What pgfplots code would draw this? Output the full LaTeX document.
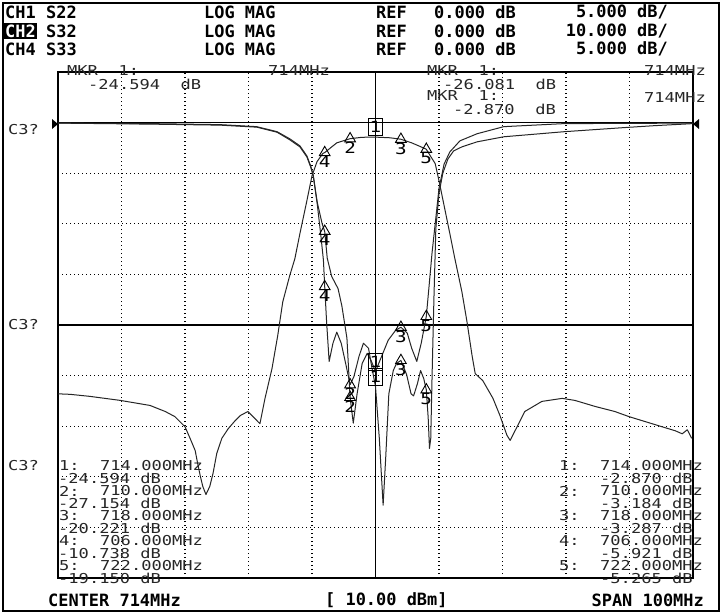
\documentclass[border=0pt]{standalone}
\usepackage{pgfplots}
\pgfplotsset{compat=1.18}
\usepackage{fontspec}
\newfontfamily\hdrfont{DejaVu Sans Mono}
\newfontfamily\thinfont{DejaVu Sans Mono}[FakeStretch=1.25]
\newcommand\hfont{\hdrfont\bfseries\fontsize{17}{17}\selectfont}
\newcommand\tfont{\thinfont\fontsize{13.7}{13.7}\selectfont}
\newcommand\mfont{\thinfont\fontsize{15.5}{15.5}\selectfont}

\begin{document}
\begin{tikzpicture}
\useasboundingbox (0,0) rectangle (724bp,-615bp);
\fill[white] (0,0) rectangle (724bp,-615bp);

\begin{axis}[
    at={(58bp,-578bp)}, anchor=south west,
    scale only axis, width=635bp, height=506bp,
    xmin=664, xmax=764, ymin=-45, ymax=5,
    xtick={674,684,694,704,724,734,744,754},
    ytick={-40,-35,-30,-25,-15,-10,-5},
    extra x ticks={714}, extra y ticks={0,-20},
    extra x tick labels={}, extra y tick labels={},
    extra tick style={major grid style={solid, black, line width=1.1bp}},
    xticklabels={}, yticklabels={},
    major tick length=0pt,
    grid=major,
    major grid style={black, line width=1.3bp, dash pattern=on 1.4bp off 2.6bp},
    axis line style={line width=1.2bp},
    clip=true,
]

%% CH1 S22, 5 dB/div
\addplot[black!85, line width=1bp, line join=round] coordinates {
 (664,-0.05) (678.5,-0.1) (689.5,-0.2) (695.3,-0.4) (698.5,-0.9) (700.5,-1.6)
 (702.1,-2.3) (703.2,-3.3) (703.8,-4.3) (704.2,-5.2) (704.8,-7.8) (705.6,-10.0)
 (706,-10.74) (706.4,-13.4) (707.1,-15.2) (708.1,-16.4) (708.7,-18.1) (709.5,-21.3)
 (710,-27.15) (710.5,-29.7) (711.1,-26.8) (711.9,-23.8) (712.7,-22.8) (713.3,-23.5)
 (714,-24.59) (714.7,-23.5) (716.0,-21.5) (717.2,-20.5) (718,-20.22) (719,-20.8)
 (719.7,-22.3) (720.5,-23.6) (721.2,-21.8) (722,-19.15) (722.4,-16.4) (722.9,-12.9)
 (723.4,-10.0) (724.0,-6.5) (724.8,-4.1) (725.7,-2.9) (727.3,-1.8) (730.0,-1.1)
 (734.2,-0.4) (743.7,-0.1) (764,-0.05)
};

%% CH4 S33, 5 dB/div
\addplot[black!85, line width=1bp, line join=round] coordinates {
 (664,-0.05) (678.5,-0.15) (689.5,-0.25) (695.3,-0.45) (698.5,-0.95) (700.5,-1.7)
 (702.1,-2.4) (703.2,-3.4) (703.8,-4.4) (704.2,-5.3) (704.8,-7.9) (705.4,-11.2)
 (705.8,-13.6) (706.0,-16.2) (706.3,-19.7) (706.7,-23.6) (707.3,-21.8) (707.9,-20.7)
 (708.6,-21.8) (709.3,-23.8) (710,-25.9) (710.6,-25.1) (711.4,-23.1) (712.1,-21.8)
 (712.9,-22.3) (713.4,-24.1) (714,-26.08) (714.6,-31.2) (715.2,-37.8) (715.6,-33.2)
 (716.1,-26.8) (716.8,-24.5) (717.3,-23.8) (718,-23.5) (718.9,-24.9) (719.6,-26.8)
 (720.0,-27.0) (720.6,-25.8) (721.1,-24.5) (721.6,-25.3) (722,-26.4) (722.3,-29.2)
 (722.5,-32.2) (722.7,-31.2) (722.9,-25.3) (723.2,-17.4) (723.5,-10.5) (724.0,-7.0)
 (724.6,-5.0) (725.4,-3.6) (726.3,-2.8) (727.6,-2.4) (730.0,-1.9) (734.2,-1.4)
 (743.7,-0.9) (753,-0.5) (758,-0.3) (764,-0.1)
};

%% CH2 S32, 10 dB/div (drawn on the 5 dB/div grid)
\addplot[black!85, line width=1bp, line join=round, y filter/.expression={y/2}] coordinates {
 (664,-53.6) (665.9,-53.7) (669.0,-54.1) (673.8,-54.9) (678.5,-55.9) (680.9,-57.1)
 (682.4,-58.1) (683.2,-59.1) (684.0,-60.1) (684.8,-62.4) (685.6,-64.8) (686.0,-67.4)
 (686.4,-69.8) (686.8,-71.9) (687.3,-73.5) (687.9,-71.9) (688.4,-69.4) (689.0,-65.4)
 (689.8,-62.4) (690.8,-60.5) (691.9,-58.9) (692.7,-57.9) (693.9,-57.1) (694.7,-58.1)
 (695.8,-59.5) (696.6,-54.5) (697.7,-48.6) (698.6,-42.1) (699.4,-35.4) (700.5,-30.2)
 (701.3,-26.9) (702.1,-21.9) (703.1,-16.0) (704.0,-10.5) (704.8,-7.7) (705.7,-6.1)
 (706,-5.92) (707.9,-4.0) (710,-3.18) (711.9,-2.9) (714,-2.87) (716.3,-3.0)
 (718,-3.29) (719.7,-4.0) (721.0,-4.7) (722,-5.27) (722.7,-6.7) (723.4,-8.1)
 (724.0,-11.5) (724.9,-17.0) (725.7,-21.9) (726.5,-26.9) (727.6,-33.4) (728.4,-39.3)
 (729.2,-46.0) (729.7,-49.6) (730.9,-51.0) (732.5,-54.5) (733.6,-57.9) (734.7,-61.8)
 (735.2,-62.8) (736.3,-60.1) (737.5,-57.1) (740.2,-55.1) (743.4,-54.5) (745.4,-54.9)
 (748.6,-56.1) (751.7,-57.1) (753.9,-58.1) (756.5,-59.1) (759.1,-60.1) (761.2,-60.9)
 (762.3,-61.5) (763.1,-60.7) (763.8,-62.4)
};

%% markers: triangles with numbers, boxes for the active marker
\pgfplotsset{
  tri/.style={only marks, mark=triangle, mark size=6.2bp,
    mark options={solid, fill=white, draw=black, line width=0.9bp},
    point meta=explicit symbolic, nodes near coords,
    nodes near coords align={below},
    every node near coord/.append style={font=\mfont, inner sep=0pt, yshift=-3bp}},
  box/.style={only marks, mark=none,
    point meta=explicit symbolic, nodes near coords,
    nodes near coords align={above},
    every node near coord/.append style={font=\mfont, draw=black, line width=0.9bp,
      inner sep=1.5bp, minimum width=12bp, minimum height=17bp, yshift=1bp}},
}
\addplot[tri] coordinates {(710,-27.154) [2] (718,-20.221) [3] (706,-10.738) [4] (722,-19.150) [5]};
\addplot[tri] coordinates {(710,-25.9) [2] (718,-23.5) [3] (706,-16.2) [4] (722,-26.4) [5]};
\addplot[tri, y filter/.expression={y/2}] coordinates {(710,-3.184) [2] (718,-3.287) [3] (706,-5.921) [4] (722,-5.265) [5]};
\addplot[box] coordinates {(714,-24.594) [1]};
\addplot[box] coordinates {(714,-26.081) [1]};
\addplot[box, y filter/.expression={y/2}] coordinates {(714,-2.870) [1]};
\end{axis}

%% outer frame and reference pointers
\draw[line width=1.2bp] (3bp,-3bp) rectangle (719bp,-611bp);
\fill (52bp,-119bp) -- (58bp,-124bp) -- (52bp,-129bp) -- cycle;
\fill (699bp,-119bp) -- (693bp,-124bp) -- (699bp,-129bp) -- cycle;

%% header
\begin{scope}[every node/.style={inner sep=0pt, anchor=west, font=\hfont}]
\node at (5bp,-12bp) {CH1};   \node at (46bp,-12bp) {S22};
\node[fill=black, text=white, inner xsep=1bp, inner ysep=2bp] at (4bp,-31bp) {CH2};
\node at (46bp,-31bp) {S32};
\node at (5bp,-49bp) {CH4};   \node at (46bp,-49bp) {S33};
\foreach \yy in {12,31,49} {
  \node at (204bp,-\yy bp) {LOG MAG};
  \node at (376bp,-\yy bp) {REF};
  \node at (434bp,-\yy bp) {0.000 dB};
}
\node[anchor=east] at (668bp,-12bp) {5.000 dB/};
\node[anchor=east] at (668bp,-31bp) {10.000 dB/};
\node[anchor=east] at (668bp,-49bp) {5.000 dB/};
\node at (48bp,-600bp) {CENTER 714MHz};
\node at (325bp,-600bp) {[ 10.00 dBm]};
\node[anchor=east] at (704bp,-600bp) {SPAN 100MHz};
\end{scope}

%% marker readouts
\begin{scope}[every node/.style={inner sep=0pt, anchor=west, font=\tfont, text=black!85}]
\node at (67bp,-71bp) {MKR\ \ 1:};
\node at (268bp,-71bp) {714MHz};
\node at (88bp,-84bp) {-24.594\ \ dB};
\node at (427bp,-71bp) {MKR\ \ 1:};
\node[anchor=east] at (706bp,-71bp) {714MHz};
\node at (443bp,-84bp) {-26.081\ \ dB};
\node at (427bp,-96bp) {MKR\ \ 1:};
\node[anchor=east] at (706bp,-98bp) {714MHz};
\node[anchor=east] at (556bp,-109bp) {-2.870\ \ dB};
\node at (8bp,-130bp) {C3?};
\node at (8bp,-325bp) {C3?};
\node at (8bp,-466bp) {C3?};
%% left list (CH1)
\node at (59bp,-466bp) {1:}; \node at (100bp,-466bp) {714.000MHz};
\node at (58bp,-478.5bp) {-24.594 dB};
\node at (59bp,-491bp) {2:}; \node at (100bp,-491bp) {710.000MHz};
\node at (58bp,-503.5bp) {-27.154 dB};
\node at (59bp,-516bp) {3:}; \node at (100bp,-516bp) {718.000MHz};
\node at (58bp,-528.5bp) {-20.221 dB};
\node at (59bp,-541bp) {4:}; \node at (100bp,-541bp) {706.000MHz};
\node at (58bp,-553.5bp) {-10.738 dB};
\node at (59bp,-566bp) {5:}; \node at (100bp,-566bp) {722.000MHz};
\node at (58bp,-578.5bp) {-19.150 dB};
%% right list (CH2)
\node at (559bp,-466bp) {1:}; \node at (600bp,-466bp) {714.000MHz};
\node at (600bp,-478.5bp) {-2.870 dB};
\node at (559bp,-491bp) {2:}; \node at (600bp,-491bp) {710.000MHz};
\node at (600bp,-503.5bp) {-3.184 dB};
\node at (559bp,-516bp) {3:}; \node at (600bp,-516bp) {718.000MHz};
\node at (600bp,-528.5bp) {-3.287 dB};
\node at (559bp,-541bp) {4:}; \node at (600bp,-541bp) {706.000MHz};
\node at (600bp,-553.5bp) {-5.921 dB};
\node at (559bp,-566bp) {5:}; \node at (600bp,-566bp) {722.000MHz};
\node at (600bp,-578.5bp) {-5.265 dB};
\end{scope}
\end{tikzpicture}
\end{document}
